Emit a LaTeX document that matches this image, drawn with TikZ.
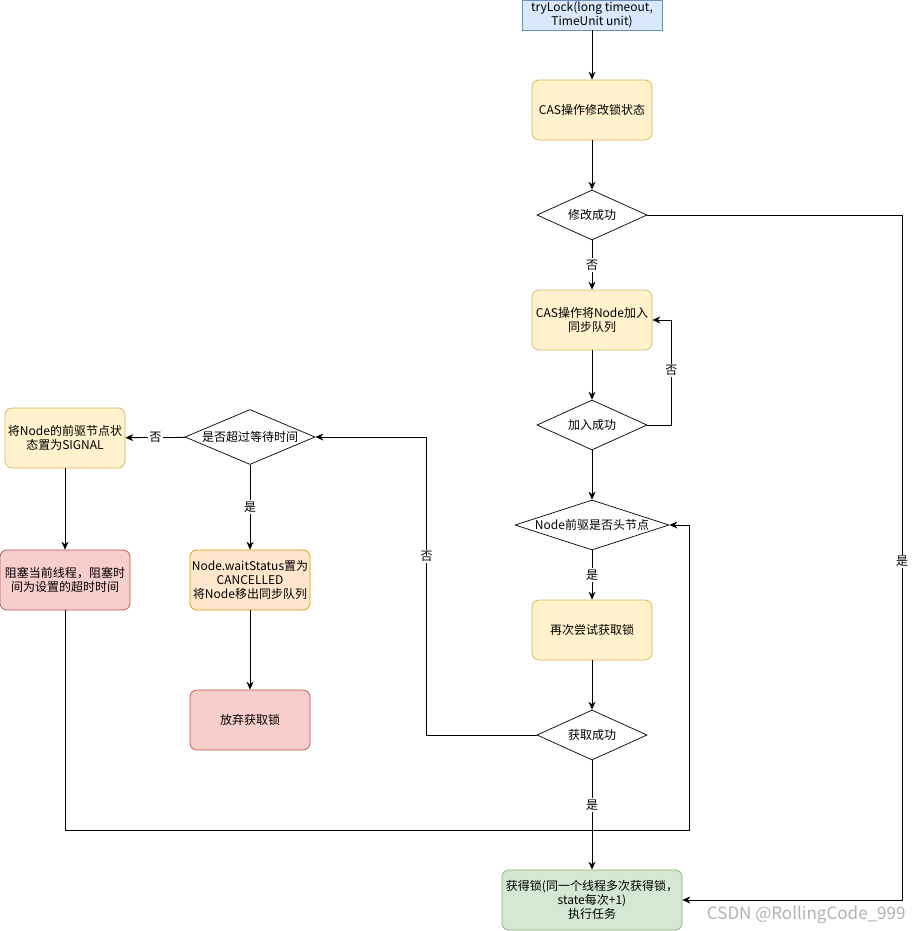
\documentclass[tikz,border=0pt]{standalone}
\usepackage{fontspec}
\setmainfont{Noto Sans CJK SC}
\usetikzlibrary{shapes.geometric,arrows.meta}

\definecolor{blueFill}{HTML}{DAE8FC}
\definecolor{blueLine}{HTML}{6C8EBF}
\definecolor{yellowFill}{HTML}{FFF2CC}
\definecolor{yellowLine}{HTML}{D6B656}
\definecolor{redFill}{HTML}{F8CECC}
\definecolor{redLine}{HTML}{B85450}
\definecolor{orangeFill}{HTML}{FFE6CC}
\definecolor{orangeLine}{HTML}{D79B00}
\definecolor{greenFill}{HTML}{D5E8D4}
\definecolor{greenLine}{HTML}{82B366}

\begin{document}
\begin{tikzpicture}[x=1pt, y=-1pt, font=\fontsize{12}{14}\selectfont,
    box/.style={draw, rounded corners=7pt, minimum width=120pt, minimum height=60pt,
                align=center, inner sep=1pt, line width=0.7pt},
    task/.style={box, fill=yellowFill, draw=yellowLine},
    stopbox/.style={box, fill=redFill, draw=redLine},
    decision/.style={draw, diamond, aspect=3, inner sep=0pt, minimum width=110pt,
                     minimum height=50pt, line width=0.7pt},
    flow/.style={-{Stealth[length=8pt,width=7pt]}, line width=0.8pt},
    lbl/.style={fill=white, inner sep=1.5pt}
]
    \useasboundingbox (0,0) rectangle (911,931);

    % main column
    \node[draw=blueLine, fill=blueFill, minimum width=140pt, minimum height=30pt,
          align=center, inner sep=1pt, line width=0.7pt]
        (try) at (592,15) {tryLock(long timeout,\\TimeUnit unit)};
    \node[task] (casLock) at (592,110) {CAS操作修改锁状态};
    \node[decision] (modOk) at (592,215) {修改成功};
    \node[task] (enq) at (592,320) {CAS操作将Node加入\\同步队列};
    \node[decision] (enqOk) at (592,425) {加入成功};
    \node[decision, minimum width=154pt] (head) at (592,525) {Node前驱是否头节点};
    \node[task] (retry) at (592,630) {再次尝试获取锁};
    \node[decision] (acqOk) at (592,735) {获取成功};
    \node[box, fill=greenFill, draw=greenLine, minimum width=180pt]
        (gotLock) at (592,900) {获得锁(同一个线程多次获得锁，\\state每次+1)\\执行任务};

    % left part
    \node[decision, minimum width=130pt, minimum height=55pt] (timeout) at (250,437) {是否超过等待时间};
    \node[task] (signal) at (65,438) {将Node的前驱节点状\\态置为SIGNAL};
    \node[stopbox, minimum width=130pt] (block) at (65,580) {阻塞当前线程，阻塞时\\间为设置的超时时间};
    \node[box, fill=orangeFill, draw=orangeLine] (cancel) at (250,580) {Node.waitStatus置为\\CANCELLED\\将Node移出同步队列};
    \node[stopbox] (giveUp) at (250,720) {放弃获取锁};

    \coordinate (rightRail) at (902,215);
    \coordinate (loopCorner) at (689,830);

    \draw[flow] (try) -- (casLock);
    \draw[flow] (casLock) -- (modOk);
    \draw[flow] (modOk) -- node[lbl]{否} (enq);
    \draw[flow] (modOk.east) -- (rightRail) |- node[lbl, pos=0.253]{是} (gotLock.east);
    \draw[flow] (enq) -- (enqOk);
    \draw[flow] (enqOk.east) -- ++(24,0) |- node[lbl, pos=0.26]{否} (enq.east);
    \draw[flow] (enqOk) -- (head);
    \draw[flow] (head) -- node[lbl]{是} (retry);
    \draw[flow] (retry) -- (acqOk);
    \draw[flow] (acqOk) -- node[lbl, pos=0.41]{是} (gotLock);
    \draw[flow] (acqOk.west) -- ++(-110,0) |- node[lbl, pos=0.30]{否} (timeout.east);
    \draw[flow] (timeout) -- node[lbl]{否} (signal);
    \draw[flow] (timeout) -- node[lbl]{是} (cancel);
    \draw[flow] (signal) -- (block);
    \draw[flow] (cancel) -- (giveUp);
    \draw[flow] (block.south) |- (loopCorner) |- (head.east);

    \node[text=black!30, font=\fontsize{17}{20}\selectfont, anchor=east] (mark) at (909,915) {CSDN @RollingCode\_999};
\end{tikzpicture}
\end{document}
